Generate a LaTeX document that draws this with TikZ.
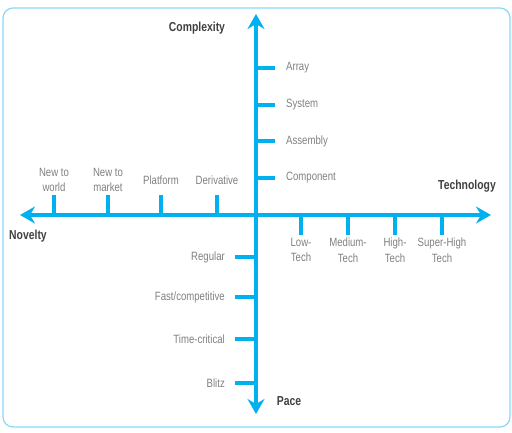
\documentclass[tikz,border=0pt]{standalone}
\usepackage{fontspec}
\setmainfont{Liberation Sans}[FakeStretch=0.8]
\usetikzlibrary{arrows.meta}
\definecolor{axisblue}{HTML}{00B0F0}
\definecolor{framebl}{HTML}{8AD8F5}
\definecolor{lblgray}{HTML}{808080}
\definecolor{ttlgray}{HTML}{404040}
\tikzset{
  axis/.style={draw=axisblue, line width=4pt, -{Stealth[length=15pt,width=17pt,inset=5pt]}},
  tick/.style={draw=axisblue, line width=4pt},
  lbl/.style={text=lblgray, font=\fontsize{12}{15.5}\selectfont, inner sep=0pt, align=center},
  ttl/.style={text=ttlgray, font=\fontsize{13}{15}\selectfont\bfseries, inner sep=0pt}
}
\begin{document}
\begin{tikzpicture}[x=1pt,y=-1pt]
\useasboundingbox (0,0) rectangle (512,432);
\draw[framebl, line width=1.2pt, rounded corners=10pt] (3,8) rectangle (510,427);
% axis end coordinates
\coordinate (top) at (256,14);
\coordinate (bot) at (256,414);
\coordinate (lft) at (20,215);
\coordinate (rgt) at (491,215);
\coordinate (c) at (256,215);
\draw[axis] (c) -- (top);
\draw[axis] (c) -- (bot);
\draw[axis] (c) -- (lft);
\draw[axis] (c) -- (rgt);
% complexity ticks
\foreach \y/\t/\n in {68/Array/a1,105/System/a2,141/Assembly/a3,178/Component/a4}{
  \coordinate (\n s) at (256,\y); \coordinate (\n e) at (275,\y);
  \draw[tick] (\n s) -- (\n e);
  \node[lbl, anchor=west] (\n) at (286,\y) {\t};
}
% pace ticks
\foreach \y/\t/\n in {257/Regular/p1,297/Fast\slash competitive/p2,339/Time-critical/p3,383/Blitz/p4}{
  \coordinate (\n s) at (256,\y); \coordinate (\n e) at (235,\y);
  \draw[tick] (\n s) -- (\n e);
  \node[lbl, anchor=east] (\n) at (225,\y) {\t};
}
% novelty ticks
\foreach \x/\n in {54/n1,108/n2,161/n3,217/n4}{
  \coordinate (\n s) at (\x,215); \coordinate (\n e) at (\x,195);
  \draw[tick] (\n s) -- (\n e);
}
\node[lbl] (n1) at (54,180) {New to\\world};
\node[lbl] (n2) at (108,180) {New to\\market};
\node[lbl] (n3) at (161,180) {Platform};
\node[lbl] (n4) at (217,180) {Derivative};
% technology ticks
\foreach \x/\n in {301/t1,348/t2,395/t3,442/t4}{
  \coordinate (\n s) at (\x,215); \coordinate (\n e) at (\x,235);
  \draw[tick] (\n s) -- (\n e);
}
\node[lbl] (t1) at (301,250) {Low-\\Tech};
\node[lbl] (t2) at (348,250) {Medium-\\Tech};
\node[lbl] (t3) at (395,250) {High-\\Tech};
\node[lbl] (t4) at (442,250) {Super-High\\Tech};
% titles
\node[ttl] (cx) at (197,28) {Complexity};
\node[ttl] (tc) at (467,186) {Technology};
\node[ttl] (nv) at (28,236) {Novelty};
\node[ttl] (pc) at (289,401) {Pace};
\end{tikzpicture}
\end{document}
